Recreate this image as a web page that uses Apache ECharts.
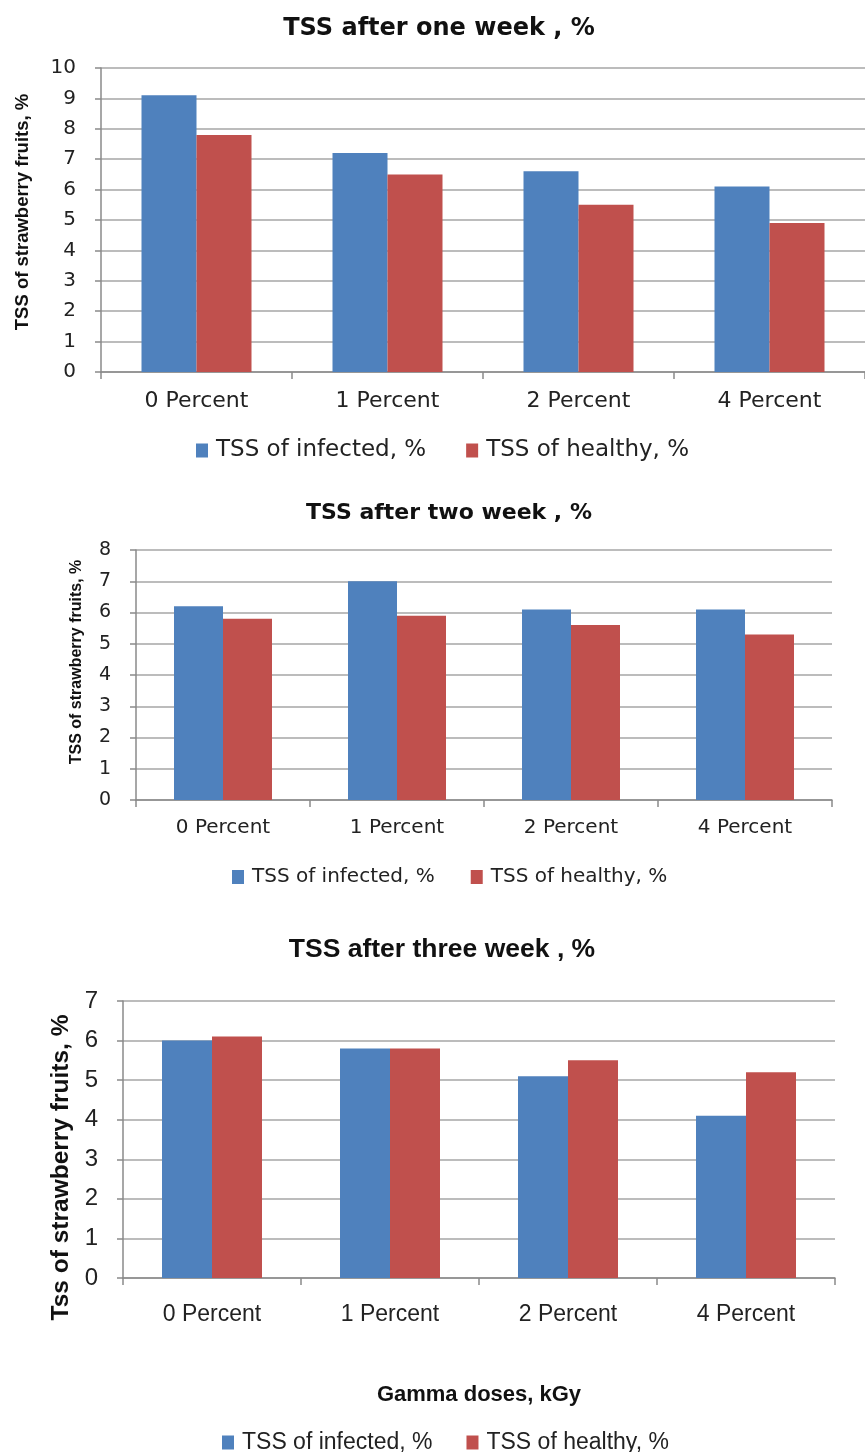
<!DOCTYPE html>
<html><head><meta charset="utf-8">
<script src="https://cdn.jsdelivr.net/npm/echarts@6/dist/echarts.min.js"></script>
<style>html,body{margin:0;padding:0;background:#fff}#c{width:865px;height:1452px}</style>
</head><body><div id="c"></div>
<script>
const categories = ['0 Percent', '1 Percent', '2 Percent', '4 Percent'];
const seriesNames = ['TSS of infected, %', 'TSS of healthy, %'];
const week1Infected = [9.1, 7.2, 6.6, 6.1];
const week1Healthy = [7.8, 6.5, 5.5, 4.9];
const week2Infected = [6.2, 7.0, 6.1, 6.1];
const week2Healthy = [5.8, 5.9, 5.6, 5.3];
const week3Infected = [6.0, 5.8, 5.1, 4.1];
const week3Healthy = [6.1, 5.8, 5.5, 5.2];
const titles = ['TSS after one week , %', 'TSS after two week , %', 'TSS after three week , %'];
const yNames = ['TSS of strawberry fruits, %', 'TSS of strawberry fruits, %', 'Tss of strawberry fruits, %'];
const yMax = [10, 8, 7];
const xName3 = 'Gamma doses, kGy';

const BLUE = '#4F81BD', RED = '#C0504D', AX = '#8a8a8a', GRID = '#a6a6a6';
const chart = echarts.init(document.getElementById('c'), null, {renderer: 'canvas'});

const grids = [
  {left: 101, top: 68, width: 764, height: 304},
  {left: 136, top: 550, width: 696, height: 250},
  {left: 123, top: 1001, width: 712, height: 277}
];
const fonts = [
  {family: 'DejaVu Sans', size: 22, ysize: 20, nameSize: 18.5, nameGap: 69, namePad: [0, 0, 0, 16]},
  {family: 'DejaVu Sans', size: 20, ysize: 19, nameSize: 16, nameGap: 51, namePad: [0, 0, 0, 26]},
  {family: 'Liberation Sans', size: 23, ysize: 24, nameSize: 24.5, nameGap: 48, namePad: [0, 56, 0, 0]}
];
const labelMargins = [18, 18, 25];
const barWidths = [55, 49, 50];
const data = [[week1Infected, week1Healthy], [week2Infected, week2Healthy], [week3Infected, week3Healthy]];

const xAxes = [], yAxes = [], series = [];
for (let i = 0; i < 3; i++) {
  const f = fonts[i];
  xAxes.push({
    type: 'category', gridIndex: i, data: categories,
    axisLine: {lineStyle: {color: AX, width: 1.5}},
    axisTick: {show: true, length: 7, lineStyle: {color: AX, width: 1.5}},
    axisLabel: {color: '#222', fontFamily: f.family, fontSize: f.size, margin: labelMargins[i]},
    name: i === 2 ? xName3 : '', nameLocation: 'middle', nameGap: 106,
    nameTextStyle: {fontFamily: 'Liberation Sans', fontWeight: 'bold', fontSize: 22, color: '#111'}
  });
  yAxes.push({
    type: 'value', gridIndex: i, min: 0, max: yMax[i], interval: 1,
    axisLine: {show: true, lineStyle: {color: AX, width: 1.5}},
    axisTick: {show: true, length: 6, lineStyle: {color: AX, width: 1.5}},
    splitLine: {lineStyle: {color: GRID, width: 1.5}},
    axisLabel: {color: '#222', fontFamily: f.family, fontSize: f.ysize, margin: 25},
    name: yNames[i], nameLocation: 'middle', nameGap: f.nameGap,
    nameTextStyle: {fontFamily: 'Liberation Sans', fontWeight: 'bold', fontSize: f.nameSize, color: '#111', padding: f.namePad}
  });
  [BLUE, RED].forEach((col, k) => {
    series.push({
      type: 'bar', name: seriesNames[k], xAxisIndex: i, yAxisIndex: i,
      data: data[i][k], barWidth: barWidths[i], barGap: '0%',
      itemStyle: {color: col}, emphasis: {disabled: true}
    });
  });
}

const titleOpts = [
  {text: titles[0], left: 434, top: 12, textAlign: 'center', textStyle: {fontFamily: 'DejaVu Sans', fontWeight: 'bold', fontSize: 24, color: '#111'}},
  {text: titles[1], left: 444, top: 497, textAlign: 'center', textStyle: {fontFamily: 'DejaVu Sans', fontWeight: 'bold', fontSize: 22, color: '#111'}},
  {text: titles[2], left: 437, top: 931, textAlign: 'center', textStyle: {fontFamily: 'Liberation Sans', fontWeight: 'bold', fontSize: 26.5, color: '#111'}}
];

const legendOpts = [
  {top: 434, left: 191, fontFamily: 'DejaVu Sans', fontSize: 23, gap: 40},
  {top: 862, left: 227, fontFamily: 'DejaVu Sans', fontSize: 20, gap: 36},
  {top: 1426, left: 217, fontFamily: 'Liberation Sans', fontSize: 23, gap: 34}
].map(l => ({
  top: l.top, left: l.left, itemWidth: 12, itemHeight: 14, itemGap: l.gap,
  icon: 'rect', data: seriesNames, selectedMode: false,
  textStyle: {fontFamily: l.fontFamily, fontSize: l.fontSize, color: '#222', padding: [0, 0, 0, 3]}
}));

chart.setOption({
  animation: false,
  title: titleOpts,
  legend: legendOpts,
  grid: grids,
  xAxis: xAxes,
  yAxis: yAxes,
  series: series
});
</script></body></html>
